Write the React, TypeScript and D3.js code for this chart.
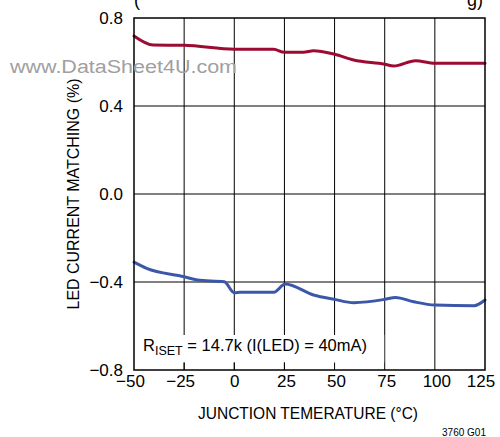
import React from "react";
import * as d3 from "d3";

const redTemps = [-50, -40.4, -25, 0, 19.6, 25, 34.5, 39.5, 50, 59.5, 75, 79.5, 90.3, 100, 125];
const redValues = [0.718, 0.677, 0.676, 0.658, 0.658, 0.644, 0.644, 0.651, 0.635, 0.609, 0.59, 0.582, 0.606, 0.594, 0.594];

const blueTemps = [-50, -43.7, -25, -18.4, -5, 0, 3, 19.6, 25.4, 39.5, 50, 59.5, 75, 80.4, 89.5, 100, 119.5, 125];
const blueValues = [-0.31, -0.338, -0.376, -0.391, -0.399, -0.449, -0.447, -0.447, -0.409, -0.459, -0.479, -0.494, -0.479, -0.47, -0.49, -0.505, -0.508, -0.482];

const xTicks = [-50, -25, 0, 25, 50, 75, 100, 125];
const yTicks = [-0.8, -0.4, 0.0, 0.4, 0.8];

const W = 500;
const H = 437;
const FONT = "'Liberation Sans Narrow', 'Arial Narrow', 'Liberation Sans', Arial, sans-serif";

export default function App() {
  const x = d3.scaleLinear().domain([-50, 125]).range([134, 485]);
  const y = d3.scaleLinear().domain([-0.8, 0.8]).range([370, 18]);

  const line = d3
    .line<[number, number]>()
    .x((d) => x(d[0]))
    .y((d) => y(d[1]))
    .curve(d3.curveMonotoneX);

  const redPts = redTemps.map((t, i) => [t, redValues[i]] as [number, number]);
  const bluePts = blueTemps.map((t, i) => [t, blueValues[i]] as [number, number]);

  const fmtY = (v: number) => (v < 0 ? "\u2212" + Math.abs(v).toFixed(1) : v.toFixed(1));
  const fmtX = (v: number) => (v < 0 ? "\u2212" + Math.abs(v) : String(v));

  const [x0, x1] = x.range();
  const [yb, yt] = y.range();

  return (
    <svg
      width={W}
      height={H}
      style={{ position: "absolute", left: 0, top: 0, background: "#fff" }}
      fontFamily={FONT}
    >
      <rect x={0} y={0} width={W} height={H} fill="#fff" />
      {/* cut-off title remnants */}
      <text x={134} y={6} fontSize={18} fill="#000">(</text>
      <text x={483} y={6} fontSize={18} fill="#000" textAnchor="end">g)</text>

      {/* gridlines */}
      {xTicks.slice(1, -1).map((t) => (
        <line key={"gx" + t} x1={x(t)} x2={x(t)} y1={yt} y2={yb} stroke="#000" strokeWidth={1} />
      ))}
      {yTicks.slice(1, -1).map((t) => (
        <line key={"gy" + t} x1={x0} x2={x1} y1={y(t)} y2={y(t)} stroke="#000" strokeWidth={1} />
      ))}

      {/* annotation background */}
      <rect x={x0} y={335} width={x(75) - x0 - 0.5} height={27.5} fill="#fff" />
      {xTicks.slice(1, 4).map((t) => (
        <line key={"tk" + t} x1={x(t)} x2={x(t)} y1={362.5} y2={yb} stroke="#000" strokeWidth={1} />
      ))}

      {/* data lines */}
      <path d={line(redPts) || ""} fill="none" stroke="#9c0b33" strokeWidth={3} strokeLinejoin="round" strokeLinecap="round" />
      <path d={line(bluePts) || ""} fill="none" stroke="#3b57a9" strokeWidth={3} strokeLinejoin="round" strokeLinecap="round" />

      {/* frame */}
      <rect x={x0} y={yt} width={x1 - x0} height={yb - yt} fill="none" stroke="#000" strokeWidth={1.5} />

      {/* annotation text */}
      <text x={143} y={351} fontSize={16.5} fill="#000">
        R<tspan fontSize={12.5} dy={4}>ISET</tspan>
        <tspan dy={-4}> = 14.7k (I(LED) = 40mA)</tspan>
      </text>

      {/* y tick labels */}
      {yTicks.map((t) => (
        <text key={"yl" + t} x={123} y={y(t)} dy="0.36em" fontSize={17} textAnchor="end" fill="#000">
          {fmtY(t)}
        </text>
      ))}

      {/* x tick labels */}
      {xTicks.map((t) => (
        <text
          key={"xl" + t}
          x={x(t)}
          y={387}
          dx={t < 0 ? -3.5 : t === 125 ? -4 : t === 0 ? 0.5 : 2}
          fontSize={17}
          textAnchor="middle"
          fill="#000"
        >
          {fmtX(t)}
        </text>
      ))}

      {/* axis titles */}
      <text x={308} y={419} fontSize={17} textAnchor="middle" fill="#000" textLength={220} lengthAdjust="spacingAndGlyphs">
        JUNCTION TEMERATURE (°C)
      </text>
      <text
        transform={`translate(79,${(yt + yb) / 2}) rotate(-90)`}
        fontSize={17}
        textAnchor="middle"
        fill="#000"
        textLength={231}
        lengthAdjust="spacingAndGlyphs"
      >
        LED CURRENT MATCHING (%)
      </text>

      {/* watermark */}
      <text x={10} y={73} fontSize={18} fill="#a0a0a0" fontFamily="'Liberation Sans', Arial, sans-serif" textLength={227} lengthAdjust="spacingAndGlyphs">
        www.DataSheet4U.com
      </text>

      <text x={486} y={436} fontSize={10} textAnchor="end" fill="#000">
        3760 G01
      </text>
    </svg>
  );
}
